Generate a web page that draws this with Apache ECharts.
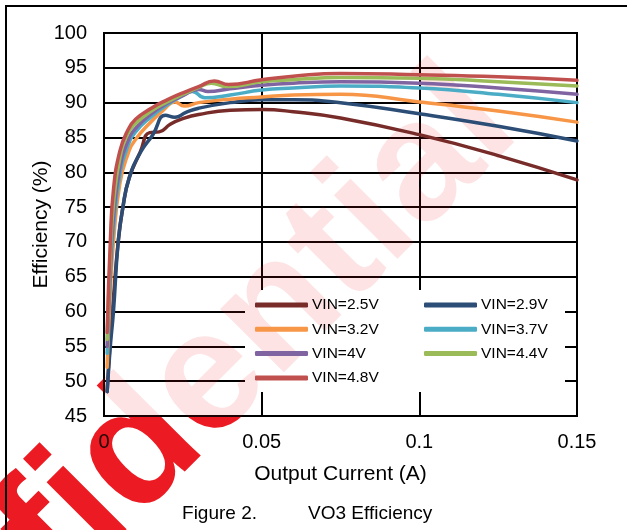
<!DOCTYPE html>
<html>
<head>
<meta charset="utf-8">
<script src="https://cdn.jsdelivr.net/npm/echarts@6/dist/echarts.min.js"></script>
<style>
  html, body { margin: 0; padding: 0; background: #fff; }
  #chart { width: 627px; height: 530px; }
</style>
</head>
<body>
<div id="chart"></div>
<script>
// Output current (A) and measured efficiency (%) for each input voltage
const current25 = [0.001, 0.002, 0.003, 0.0045, 0.006, 0.008, 0.0115, 0.0145, 0.0175, 0.021, 0.025, 0.03, 0.04, 0.05, 0.06, 0.075, 0.1, 0.125, 0.15];
const eff25     = [48.5, 56, 62, 70, 75, 79.2, 82.9, 85.7, 85.8, 86.9, 87.7, 88.3, 88.9, 89.0, 88.7, 87.8, 85.4, 82.4, 78.9];

const current29 = [0.001, 0.002, 0.003, 0.0045, 0.006, 0.008, 0.0115, 0.0155, 0.0195, 0.0225, 0.026, 0.03, 0.04, 0.05, 0.06, 0.075, 0.1, 0.125, 0.15];
const eff29     = [48.5, 55, 60, 70, 75, 79.2, 82.8, 85.4, 88.2, 87.9, 88.6, 89.2, 90.0, 90.4, 90.4, 90.0, 88.4, 86.6, 84.5];

const current32 = [0.001, 0.002, 0.003, 0.005, 0.0075, 0.01, 0.015, 0.019, 0.0225, 0.0255, 0.03, 0.04, 0.05, 0.06, 0.075, 0.1, 0.125, 0.15];
const eff32     = [52, 63, 70, 78.3, 82.5, 84.7, 87.3, 89.0, 90.1, 89.5, 90.0, 90.5, 90.8, 91.1, 91.2, 90.1, 88.8, 87.2];

const current37 = [0.001, 0.002, 0.003, 0.005, 0.0075, 0.01, 0.015, 0.02, 0.0245, 0.028, 0.032, 0.04, 0.05, 0.06, 0.075, 0.1, 0.125, 0.15];
const eff37     = [54, 65, 72, 79.5, 83.7, 85.8, 88.0, 89.7, 90.9, 91.6, 90.7, 91.1, 91.8, 92.1, 92.4, 92.1, 91.2, 90.0];

const current40 = [0.001, 0.002, 0.003, 0.005, 0.0075, 0.01, 0.015, 0.02, 0.025, 0.03, 0.033, 0.04, 0.05, 0.06, 0.075, 0.1, 0.125, 0.15];
const eff40     = [55, 66, 73.5, 80.5, 84.4, 86.3, 88.4, 89.9, 91.0, 91.9, 91.6, 92.0, 92.5, 92.8, 93.0, 92.8, 92.1, 91.2];

const current44 = [0.001, 0.002, 0.003, 0.005, 0.0075, 0.01, 0.015, 0.02, 0.025, 0.03, 0.034, 0.039, 0.05, 0.06, 0.075, 0.1, 0.125, 0.15];
const eff44     = [56, 68, 75.5, 82, 85.5, 87.0, 88.8, 90.1, 91.2, 92.2, 92.8, 92.3, 93.0, 93.3, 93.6, 93.5, 93.0, 92.4];

const current48 = [0.001, 0.002, 0.003, 0.005, 0.0075, 0.01, 0.015, 0.02, 0.025, 0.03, 0.035, 0.0395, 0.05, 0.06, 0.075, 0.1, 0.125, 0.15];
const eff48     = [57, 70, 77.5, 83, 86.0, 87.6, 89.2, 90.4, 91.4, 92.3, 93.1, 92.6, 93.3, 93.8, 94.2, 94.0, 93.7, 93.2];

const seriesNames  = ['VIN=2.5V', 'VIN=2.9V', 'VIN=3.2V', 'VIN=3.7V', 'VIN=4V', 'VIN=4.4V', 'VIN=4.8V'];
const seriesColors = ['#772C2A', '#2C4D75', '#F79646', '#4BACC6', '#8064A2', '#9BBB59', '#C0504D'];
const currents     = [current25, current29, current32, current37, current40, current44, current48];
const efficiencies = [eff25, eff29, eff32, eff37, eff40, eff44, eff48];

const xTicks = { min: 0, max: 0.15, step: 0.05 };
const yTicks = { min: 45, max: 100, step: 5 };

const FONT = 'Arial, "Liberation Sans", Helvetica, sans-serif';

const chart = echarts.init(document.getElementById('chart'), null, { renderer: 'canvas' });

const series = seriesNames.map((name, i) => ({
  name: name,
  type: 'line',
  data: currents[i].map((x, k) => [x, efficiencies[i][k]]),
  showSymbol: false,
  symbol: 'none',
  smooth: 0.5,
  lineStyle: { color: seriesColors[i], width: 3.5, cap: 'round', join: 'round' },
  itemStyle: { color: seriesColors[i] },
  z: 8 + i * 0.01
}));

const legendBase = {
  orient: 'vertical',
  icon: 'roundRect',
  itemWidth: 53,
  itemHeight: 5,
  itemGap: 6.3,
  padding: 0,
  z: 10,
  selectedMode: false,
  textStyle: { fontFamily: FONT, fontSize: 15.5, color: '#000', lineHeight: 18, padding: [0, 0, 0, -1] }
};

// "Confidential" stamp; drawn once solid beneath the chart and once faint over the plot
const stamp = (z, alpha) => ({
  type: 'text',
  z: z,
  silent: true,
  x: -145, y: 855,
  rotation: Math.PI / 4,
  style: {
    text: 'Confidential',
    font: 'bold 170px ' + FONT,
    fill: 'rgb(236, 28, 36)',
    opacity: alpha,
    textAlign: 'left',
    textVerticalAlign: 'bottom'
  }
});

chart.setOption({
  animation: false,
  backgroundColor: '#fff',
  grid: {
    left: 104, right: 50, top: 33, bottom: 114,
    show: true,
    backgroundColor: '#fff',
    borderColor: '#000',
    borderWidth: 2,
    z: 0
  },
  xAxis: {
    type: 'value',
    min: xTicks.min, max: xTicks.max, interval: xTicks.step,
    name: 'Output Current (A)',
    nameLocation: 'middle',
    nameGap: 48,
    nameTextStyle: { fontFamily: FONT, fontSize: 21, color: '#000' },
    axisLine: { show: true, lineStyle: { color: '#000', width: 2 } },
    axisTick: { show: false },
    axisLabel: {
      margin: 16, fontFamily: FONT, fontSize: 20, color: '#000',
      formatter: v => String(+v.toFixed(2))
    },
    splitLine: { show: true, lineStyle: { color: '#000', width: 2 } }
  },
  yAxis: {
    type: 'value',
    min: yTicks.min, max: yTicks.max, interval: yTicks.step,
    name: 'Efficiency (%)',
    nameLocation: 'middle',
    nameGap: 52,
    nameMoveOverlap: false,
    nameTextStyle: { fontFamily: FONT, fontSize: 21, color: '#000' },
    axisLine: { show: true, lineStyle: { color: '#000', width: 2 } },
    axisTick: { show: false },
    axisLabel: { margin: 17, fontFamily: FONT, fontSize: 20, color: '#000' },
    splitLine: { show: true, lineStyle: { color: '#000', width: 2 } }
  },
  legend: [
    Object.assign({}, legendBase, {
      left: 255, top: 296,
      data: ['VIN=2.5V', 'VIN=3.2V', 'VIN=4V', 'VIN=4.8V']
    }),
    Object.assign({}, legendBase, {
      left: 424, top: 296,
      data: ['VIN=2.9V', 'VIN=3.7V', 'VIN=4.4V']
    })
  ],
  graphic: [
    stamp(-10, 1),
    {
      // white panel under the legend
      type: 'rect',
      z: 6,
      silent: true,
      shape: { x: 245, y: 290, width: 320, height: 102 },
      style: { fill: '#fff' }
    },
    stamp(7, 0.12),
    {
      // outer frame: top and left edges
      type: 'polyline',
      z: 20,
      silent: true,
      shape: { points: [[627, 6], [6, 6], [6, 530]] },
      style: { stroke: '#000', lineWidth: 2, fill: null }
    },
    {
      type: 'text',
      z: 20,
      silent: true,
      x: 257, y: 514,
      style: {
        text: 'Figure 2.',
        font: '19px ' + FONT,
        fill: '#000',
        textAlign: 'right',
        textVerticalAlign: 'middle'
      }
    },
    {
      type: 'text',
      z: 20,
      silent: true,
      x: 308, y: 514,
      style: {
        text: 'VO3 Efficiency',
        font: '19px ' + FONT,
        fill: '#000',
        textAlign: 'left',
        textVerticalAlign: 'middle'
      }
    }
  ],
  series: series
});
</script>
</body>
</html>
